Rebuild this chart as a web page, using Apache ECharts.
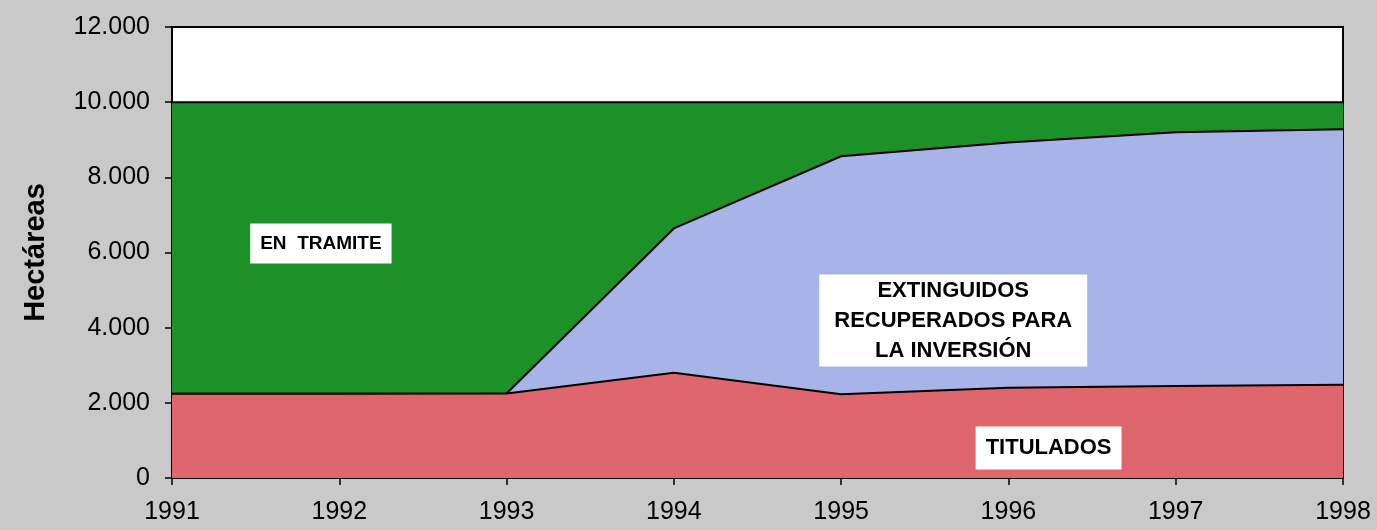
<!DOCTYPE html>
<html>
<head>
<meta charset="utf-8">
<script src="https://cdn.jsdelivr.net/npm/echarts@6/dist/echarts.min.js"></script>
<style>
  html, body { margin: 0; padding: 0; background: #c9c9c9; }
  #chart { width: 1377px; height: 530px; }
</style>
</head>
<body>
<div id="chart"></div>
<script>
var years = ['1991', '1992', '1993', '1994', '1995', '1996', '1997', '1998'];
var titulados = [2240, 2240, 2250, 2800, 2230, 2400, 2450, 2480];
var extinguidos = [0, 0, 0, 3840, 6330, 6530, 6750, 6800];
var enTramite = [7760, 7760, 7750, 3360, 1440, 1070, 800, 720];

// label boxes, placed in data units (year, hectares)
var labelTramite = [1991.89, 6240];
var labelExting = [1995.67, 4190];
var labelTitulados = [1996.24, 800];

var chart = echarts.init(document.getElementById('chart'));

var font = 'Liberation Sans, Arial, sans-serif';
var line = { color: '#000', width: 2 };

function note(coord, text, size, lh, pad) {
    return {
        value: coord,
        label: {
            show: true,
            position: 'inside',
            formatter: text,
            backgroundColor: '#ffffff',
            color: '#000',
            opacity: 1,
            fontFamily: font,
            fontWeight: 'bold',
            fontSize: size,
            lineHeight: lh,
            align: 'center',
            verticalAlign: 'middle',
            padding: pad
        }
    };
}

function areaSeries(name, vals, color, z) {
    return {
        name: name,
        type: 'line',
        stack: 'total',
        symbol: 'none',
        lineStyle: line,
        areaStyle: { color: color, opacity: 1 },
        data: vals,
        z: z
    };
}

var option = {
    backgroundColor: '#c9c9c9',
    animation: false,
    grid: {
        left: 172, right: 34, top: 27, bottom: 52,
        show: true,
        backgroundColor: '#ffffff',
        borderColor: '#000',
        borderWidth: 2
    },
    xAxis: [
        {
            type: 'category',
            data: years,
            boundaryGap: false,
            axisLine: { show: true, lineStyle: { color: '#000', width: 2 } },
            axisTick: { show: true, length: 7, lineStyle: { color: '#000', width: 1.5 } },
            axisLabel: { color: '#000', fontSize: 25, margin: 22, fontFamily: font },
            splitLine: { show: false }
        },
        {
            // hidden helper axis for the label boxes
            type: 'value',
            min: 1991, max: 1998,
            show: false
        }
    ],
    yAxis: {
        type: 'value',
        min: 0, max: 12000, interval: 2000,
        name: 'Hectáreas',
        nameLocation: 'middle',
        nameGap: 122,
        nameTextStyle: { color: '#000', fontSize: 29, fontWeight: 'bold', fontFamily: font },
        axisLine: { show: true, lineStyle: { color: '#000', width: 2 } },
        axisTick: { show: true, length: 7, lineStyle: { color: '#000', width: 1.5 } },
        axisLabel: {
            color: '#000', fontSize: 25, margin: 22, fontFamily: font,
            formatter: function (v) {
                return v >= 1000 ? Math.floor(v / 1000) + '.' + String(v % 1000).padStart(3, '0') : String(v);
            }
        },
        splitLine: { show: false }
    },
    series: [
        areaSeries('TITULADOS', titulados, '#e0666e', 3),
        areaSeries('EXTINGUIDOS', extinguidos, '#a8b3e8', 2),
        areaSeries('EN TRAMITE', enTramite, '#1c9128', 1),
        {
            type: 'scatter',
            xAxisIndex: 1,
            symbolSize: 0,
            silent: true,
            itemStyle: { opacity: 1 },
            emphasis: { disabled: true },
            z: 10,
            data: [
                note(labelTramite, 'EN  TRAMITE', 19, 22, [9, 10, 9, 10]),
                note(labelExting, 'EXTINGUIDOS\nRECUPERADOS PARA\nLA INVERSIÓN', 22, 30, [1, 15, 1, 15]),
                note(labelTitulados, 'TITULADOS', 22, 25, [9, 10, 9, 10])
            ]
        }
    ]
};

chart.setOption(option);
</script>
</body>
</html>
